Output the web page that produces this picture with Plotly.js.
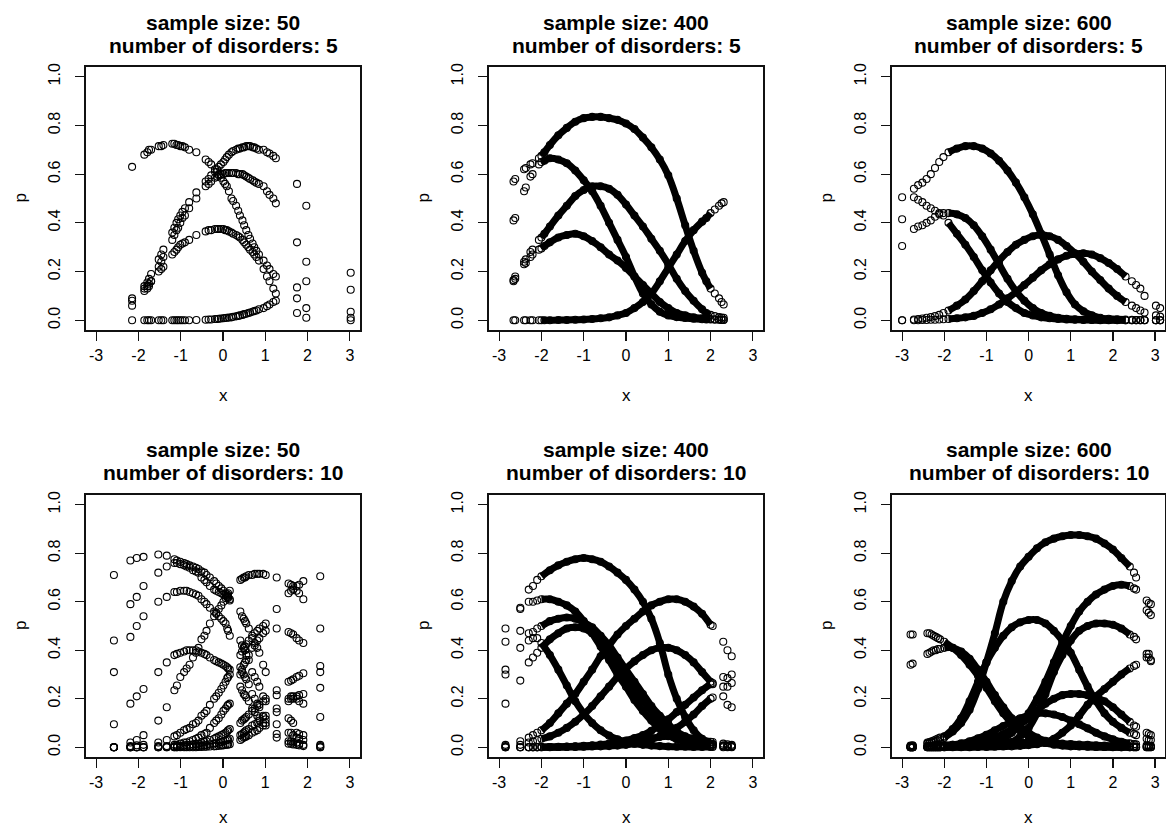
<!DOCTYPE html>
<html><head><meta charset="utf-8">
<script src="https://cdn.plot.ly/plotly-3.0.1.min.js"></script>
<style>body{margin:0;background:#fff}#chart{width:1166px;height:828px}</style>
</head><body><div id="chart"></div>
<script>
// ---------- panel meta ----------
const SAMPLE_SIZE = [50, 400, 600, 50, 400, 600];
const DISORDERS = [5, 5, 5, 10, 10, 10];
const X_TICKS = [-3, -2, -1, 0, 1, 2, 3];
const X_TICK_LABELS = ['-3', '-2', '-1', '0', '1', '2', '3'];
const Y_TICKS = [0, 0.2, 0.4, 0.6, 0.8, 1.0];
const Y_TICK_LABELS = ['0.0', '0.2', '0.4', '0.6', '0.8', '1.0'];

// ---------- panel 1: n=50, 5 disorders ----------
const X1 = [-2.15, -1.86, -1.79, -1.75, -1.7, -1.52, -1.46, -1.41, -1.2, -1.15, -1.1, -1.06, -1.01, -0.96, -0.9, -0.8, -0.63, -0.41, -0.34, -0.28, -0.19, -0.14, -0.1, -0.05, 0.01, 0.05, 0.09, 0.14, 0.2, 0.24, 0.31, 0.36, 0.4, 0.46, 0.5, 0.55, 0.6, 0.64, 0.7, 0.74, 0.79, 0.85, 0.96, 1.04, 1.1, 1.19, 1.25, 1.75, 1.97, 3.02];
const P1_A = [0.63, 0.68, 0.69, 0.70, 0.70, 0.715, 0.715, 0.72, 0.725, 0.725, 0.72, 0.72, 0.715, 0.715, 0.71, 0.70, 0.69, 0.66, 0.65, 0.64, 0.62, 0.61, 0.60, 0.585, 0.57, 0.56, 0.55, 0.53, 0.50, 0.49, 0.47, 0.45, 0.43, 0.41, 0.39, 0.37, 0.35, 0.335, 0.315, 0.30, 0.285, 0.27, 0.245, 0.225, 0.21, 0.19, 0.18, 0.09, 0.05, 0.0];
const P1_B = [0.09, 0.14, 0.155, 0.17, 0.19, 0.25, 0.27, 0.29, 0.36, 0.38, 0.40, 0.415, 0.43, 0.445, 0.46, 0.485, 0.525, 0.57, 0.58, 0.595, 0.61, 0.62, 0.63, 0.64, 0.65, 0.66, 0.67, 0.68, 0.69, 0.695, 0.70, 0.705, 0.705, 0.71, 0.71, 0.715, 0.715, 0.715, 0.71, 0.71, 0.705, 0.70, 0.70, 0.69, 0.685, 0.675, 0.665, 0.56, 0.47, 0.125];
const P1_C = [0.06, 0.12, 0.13, 0.14, 0.16, 0.22, 0.24, 0.26, 0.33, 0.35, 0.37, 0.38, 0.40, 0.42, 0.43, 0.46, 0.50, 0.55, 0.56, 0.57, 0.585, 0.59, 0.595, 0.60, 0.60, 0.605, 0.605, 0.605, 0.605, 0.605, 0.605, 0.60, 0.60, 0.60, 0.595, 0.59, 0.585, 0.58, 0.575, 0.57, 0.565, 0.56, 0.55, 0.53, 0.515, 0.50, 0.48, 0.32, 0.24, 0.035];
const P1_D = [0.08, 0.13, 0.14, 0.15, 0.16, 0.20, 0.21, 0.22, 0.27, 0.28, 0.29, 0.30, 0.31, 0.315, 0.32, 0.33, 0.35, 0.365, 0.37, 0.37, 0.375, 0.375, 0.375, 0.375, 0.375, 0.37, 0.37, 0.365, 0.36, 0.355, 0.35, 0.345, 0.34, 0.33, 0.32, 0.31, 0.30, 0.29, 0.28, 0.27, 0.26, 0.245, 0.21, 0.18, 0.16, 0.13, 0.11, 0.03, 0.01, 0.01];
const P1_E = [0, 0, 0, 0, 0, 0, 0, 0, 0, 0, 0, 0, 0, 0, 0, 0, 0.001, 0.002, 0.003, 0.003, 0.005, 0.005, 0.006, 0.007, 0.008, 0.009, 0.01, 0.011, 0.012, 0.014, 0.016, 0.018, 0.02, 0.022, 0.025, 0.027, 0.03, 0.032, 0.035, 0.038, 0.04, 0.045, 0.05, 0.058, 0.065, 0.075, 0.08, 0.135, 0.16, 0.195];

// ---------- panel 2: n=400, 5 disorders ----------
const X2 = [-2.66, -2.62, -2.41, -2.37, -2.26, -2.21, -2.06, -2.0, -1.93, -1.8, -1.6, -1.4, -1.2, -1.0, -0.8, -0.6, -0.4, -0.2, 0.0, 0.2, 0.4, 0.6, 0.8, 1.0, 1.2, 1.4, 1.6, 1.8, 1.9, 2.0, 2.1, 2.2, 2.26, 2.31];
const P2_A = [0.57, 0.58, 0.62, 0.625, 0.64, 0.645, 0.665, 0.675, 0.69, 0.72, 0.76, 0.79, 0.815, 0.83, 0.835, 0.835, 0.83, 0.823, 0.808, 0.785, 0.75, 0.71, 0.66, 0.595, 0.50, 0.39, 0.285, 0.195, 0.16, 0.13, 0.11, 0.09, 0.075, 0.065];
const P2_B = [0.41, 0.42, 0.53, 0.545, 0.59, 0.60, 0.64, 0.65, 0.655, 0.665, 0.66, 0.645, 0.615, 0.575, 0.53, 0.47, 0.40, 0.33, 0.26, 0.18, 0.11, 0.065, 0.035, 0.02, 0.013, 0.009, 0.006, 0.004, 0.003, 0.003, 0.002, 0.002, 0.001, 0.001];
const P2_C = [0.165, 0.18, 0.24, 0.25, 0.28, 0.29, 0.33, 0.34, 0.355, 0.385, 0.43, 0.47, 0.51, 0.535, 0.55, 0.55, 0.54, 0.515, 0.475, 0.43, 0.385, 0.335, 0.285, 0.23, 0.17, 0.12, 0.08, 0.045, 0.03, 0.022, 0.017, 0.013, 0.011, 0.01];
const P2_D = [0.16, 0.17, 0.23, 0.235, 0.26, 0.27, 0.29, 0.295, 0.305, 0.32, 0.34, 0.35, 0.355, 0.345, 0.325, 0.30, 0.27, 0.245, 0.215, 0.18, 0.145, 0.11, 0.075, 0.05, 0.03, 0.02, 0.012, 0.008, 0.006, 0.005, 0.004, 0.003, 0.002, 0.002];
const P2_E = [0, 0, 0, 0, 0, 0, 0, 0, 0, 0, 0.001, 0.001, 0.002, 0.003, 0.005, 0.008, 0.012, 0.02, 0.03, 0.05, 0.075, 0.11, 0.16, 0.215, 0.27, 0.325, 0.37, 0.405, 0.42, 0.44, 0.455, 0.47, 0.48, 0.485];

// ---------- panel 3: n=600, 5 disorders ----------
const X3 = [-3.0, -2.72, -2.62, -2.52, -2.42, -2.32, -2.22, -2.12, -2.02, -1.9, -1.7, -1.5, -1.3, -1.1, -0.9, -0.7, -0.5, -0.3, -0.1, 0.1, 0.3, 0.5, 0.7, 0.9, 1.1, 1.3, 1.5, 1.7, 1.9, 2.1, 2.3, 2.45, 2.55, 2.65, 2.75, 3.02, 3.12];
const P3_A = [0.505, 0.54, 0.555, 0.565, 0.58, 0.60, 0.625, 0.65, 0.67, 0.69, 0.705, 0.715, 0.715, 0.705, 0.685, 0.655, 0.615, 0.565, 0.505, 0.435, 0.355, 0.27, 0.185, 0.115, 0.065, 0.037, 0.02, 0.01, 0.006, 0.004, 0.003, 0.002, 0.001, 0.001, 0.001, 0, 0];
const P3_B = [0.415, 0.505, 0.495, 0.485, 0.47, 0.46, 0.45, 0.44, 0.43, 0.40, 0.355, 0.31, 0.26, 0.205, 0.155, 0.11, 0.075, 0.05, 0.03, 0.02, 0.012, 0.008, 0.005, 0.003, 0.002, 0.001, 0.001, 0, 0, 0, 0, 0, 0, 0, 0, 0, 0];
const P3_C = [0.305, 0.375, 0.385, 0.39, 0.40, 0.41, 0.425, 0.435, 0.44, 0.44, 0.435, 0.42, 0.39, 0.345, 0.29, 0.23, 0.17, 0.12, 0.08, 0.05, 0.03, 0.018, 0.01, 0.006, 0.004, 0.003, 0.002, 0.001, 0.001, 0.001, 0, 0, 0, 0, 0, 0, 0];
const P3_D = [0, 0.003, 0.005, 0.007, 0.01, 0.013, 0.017, 0.022, 0.03, 0.04, 0.06, 0.085, 0.12, 0.16, 0.205, 0.245, 0.28, 0.31, 0.33, 0.345, 0.35, 0.345, 0.33, 0.305, 0.275, 0.24, 0.20, 0.165, 0.13, 0.10, 0.075, 0.06, 0.05, 0.04, 0.032, 0.02, 0.015];
const P3_E = [0, 0, 0, 0.001, 0.001, 0.002, 0.002, 0.003, 0.004, 0.005, 0.008, 0.012, 0.018, 0.03, 0.045, 0.065, 0.09, 0.115, 0.145, 0.175, 0.205, 0.23, 0.25, 0.265, 0.272, 0.275, 0.27, 0.255, 0.235, 0.21, 0.18, 0.16, 0.145, 0.13, 0.10, 0.06, 0.05];

// ---------- panel 4: n=50, 10 disorders ----------
const X4 = [-2.58, -2.19, -2.04, -1.88, -1.53, -1.33, -1.15, -1.09, -1.01, -0.92, -0.86, -0.79, -0.71, -0.64, -0.58, -0.51, -0.44, -0.39, -0.31, -0.21, -0.16, -0.1, -0.04, 0.01, 0.06, 0.1, 0.12, 0.16, 0.41, 0.45, 0.49, 0.52, 0.55, 0.61, 0.69, 0.75, 0.81, 0.86, 0.95, 1.01, 1.27, 1.55, 1.61, 1.66, 1.74, 1.8, 1.9, 2.3];
const P4_01 = [0.71, 0.77, 0.78, 0.785, 0.795, 0.79, 0.775, 0.77, 0.765, 0.76, 0.755, 0.75, 0.745, 0.74, 0.735, 0.725, 0.72, 0.71, 0.70, 0.685, 0.675, 0.665, 0.655, 0.645, 0.635, 0.625, 0.62, 0.61, 0.56, 0.54, 0.53, 0.52, 0.51, 0.49, 0.45, 0.43, 0.41, 0.39, 0.34, 0.31, 0.215, 0.12, 0.11, 0.10, 0.06, 0.055, 0.05, 0.01];
const P4_02 = [0.44, 0.59, 0.62, 0.665, 0.72, 0.745, 0.76, 0.76, 0.755, 0.75, 0.745, 0.74, 0.73, 0.725, 0.72, 0.70, 0.69, 0.68, 0.665, 0.65, 0.645, 0.64, 0.635, 0.63, 0.625, 0.62, 0.615, 0.605, 0.44, 0.42, 0.41, 0.40, 0.38, 0.36, 0.31, 0.29, 0.27, 0.25, 0.21, 0.19, 0.095, 0.06, 0.06, 0.05, 0.04, 0.035, 0.03, 0.005];
const P4_03 = [0.31, 0.455, 0.50, 0.54, 0.60, 0.62, 0.64, 0.64, 0.645, 0.645, 0.645, 0.64, 0.635, 0.63, 0.625, 0.61, 0.60, 0.59, 0.575, 0.56, 0.55, 0.54, 0.53, 0.52, 0.51, 0.49, 0.48, 0.46, 0.33, 0.31, 0.30, 0.29, 0.28, 0.26, 0.22, 0.20, 0.18, 0.165, 0.13, 0.115, 0.055, 0.025, 0.025, 0.02, 0.02, 0.015, 0.01, 0];
const P4_04 = [0.095, 0.18, 0.21, 0.24, 0.31, 0.35, 0.38, 0.385, 0.39, 0.395, 0.40, 0.40, 0.40, 0.40, 0.395, 0.39, 0.385, 0.38, 0.37, 0.36, 0.355, 0.35, 0.345, 0.34, 0.335, 0.33, 0.325, 0.32, 0.25, 0.235, 0.22, 0.215, 0.205, 0.19, 0.16, 0.145, 0.13, 0.12, 0.10, 0.09, 0.04, 0.015, 0.015, 0.012, 0.01, 0.008, 0.005, 0];
const P4_05 = [0, 0.02, 0.03, 0.05, 0.11, 0.165, 0.235, 0.255, 0.29, 0.31, 0.325, 0.34, 0.37, 0.39, 0.41, 0.445, 0.46, 0.48, 0.51, 0.54, 0.555, 0.57, 0.585, 0.60, 0.615, 0.63, 0.635, 0.645, 0.69, 0.695, 0.70, 0.70, 0.705, 0.71, 0.71, 0.715, 0.715, 0.715, 0.715, 0.71, 0.70, 0.675, 0.67, 0.665, 0.645, 0.635, 0.61, 0.49];
const P4_06 = [0, 0.005, 0.008, 0.01, 0.02, 0.03, 0.045, 0.05, 0.06, 0.07, 0.075, 0.08, 0.095, 0.10, 0.11, 0.13, 0.14, 0.15, 0.175, 0.20, 0.21, 0.225, 0.24, 0.255, 0.27, 0.285, 0.29, 0.30, 0.38, 0.395, 0.41, 0.415, 0.425, 0.44, 0.46, 0.47, 0.48, 0.49, 0.50, 0.51, 0.57, 0.635, 0.645, 0.65, 0.665, 0.67, 0.685, 0.705];
const P4_07 = [0, 0, 0, 0, 0.005, 0.005, 0.01, 0.01, 0.015, 0.02, 0.02, 0.025, 0.03, 0.035, 0.04, 0.05, 0.055, 0.06, 0.08, 0.10, 0.11, 0.12, 0.135, 0.15, 0.16, 0.17, 0.175, 0.18, 0.30, 0.32, 0.34, 0.35, 0.36, 0.38, 0.41, 0.42, 0.44, 0.45, 0.47, 0.48, 0.49, 0.475, 0.47, 0.465, 0.45, 0.44, 0.43, 0.335];
const P4_08 = [0, 0, 0, 0, 0, 0.002, 0.004, 0.005, 0.006, 0.008, 0.009, 0.01, 0.012, 0.014, 0.015, 0.02, 0.022, 0.025, 0.03, 0.035, 0.04, 0.045, 0.05, 0.055, 0.06, 0.065, 0.07, 0.075, 0.10, 0.11, 0.115, 0.12, 0.125, 0.135, 0.15, 0.16, 0.17, 0.175, 0.19, 0.20, 0.235, 0.27, 0.275, 0.28, 0.29, 0.295, 0.305, 0.31];
const P4_09 = [0, 0, 0, 0, 0, 0, 0, 0, 0.001, 0.002, 0.002, 0.003, 0.004, 0.005, 0.005, 0.007, 0.008, 0.009, 0.012, 0.015, 0.017, 0.02, 0.022, 0.025, 0.028, 0.03, 0.032, 0.035, 0.05, 0.055, 0.06, 0.065, 0.07, 0.075, 0.09, 0.095, 0.10, 0.11, 0.125, 0.13, 0.16, 0.20, 0.21, 0.21, 0.21, 0.215, 0.22, 0.245];
const P4_10 = [0, 0, 0, 0, 0, 0, 0, 0, 0, 0, 0, 0, 0, 0, 0.001, 0.001, 0.002, 0.002, 0.003, 0.004, 0.005, 0.006, 0.007, 0.008, 0.01, 0.011, 0.012, 0.013, 0.03, 0.035, 0.04, 0.042, 0.045, 0.05, 0.06, 0.065, 0.07, 0.08, 0.09, 0.10, 0.145, 0.19, 0.20, 0.20, 0.20, 0.19, 0.18, 0.125];

// ---------- panel 5: n=400, 10 disorders ----------
const X5 = [-2.85, -2.5, -2.3, -2.2, -2.1, -2.0, -1.8, -1.6, -1.4, -1.2, -1.0, -0.8, -0.6, -0.4, -0.2, 0.0, 0.2, 0.4, 0.6, 0.8, 1.0, 1.2, 1.4, 1.6, 1.8, 2.0, 2.05, 2.3, 2.4, 2.5];
const P5_01 = [0.49, 0.575, 0.65, 0.665, 0.69, 0.705, 0.73, 0.75, 0.765, 0.775, 0.78, 0.775, 0.765, 0.745, 0.72, 0.69, 0.65, 0.60, 0.53, 0.43, 0.30, 0.20, 0.125, 0.07, 0.035, 0.015, 0.013, 0.006, 0.004, 0.003];
const P5_02 = [0.435, 0.57, 0.60, 0.60, 0.605, 0.61, 0.61, 0.60, 0.585, 0.56, 0.52, 0.47, 0.415, 0.36, 0.30, 0.25, 0.195, 0.15, 0.11, 0.075, 0.05, 0.033, 0.022, 0.014, 0.009, 0.006, 0.005, 0.003, 0.002, 0.002];
const P5_03 = [0.32, 0.48, 0.47, 0.475, 0.49, 0.50, 0.52, 0.53, 0.535, 0.53, 0.515, 0.495, 0.46, 0.42, 0.37, 0.32, 0.27, 0.22, 0.17, 0.13, 0.095, 0.065, 0.045, 0.03, 0.02, 0.013, 0.012, 0.007, 0.005, 0.004];
const P5_04 = [0.18, 0.275, 0.35, 0.37, 0.39, 0.41, 0.445, 0.47, 0.49, 0.495, 0.49, 0.47, 0.44, 0.395, 0.345, 0.29, 0.24, 0.19, 0.15, 0.11, 0.08, 0.055, 0.04, 0.027, 0.018, 0.012, 0.011, 0.007, 0.006, 0.005];
const P5_05 = [0.30, 0.41, 0.44, 0.45, 0.45, 0.43, 0.38, 0.32, 0.255, 0.19, 0.14, 0.10, 0.07, 0.048, 0.033, 0.022, 0.015, 0.01, 0.007, 0.005, 0.003, 0.002, 0.002, 0.001, 0.001, 0.001, 0.001, 0, 0, 0];
const P5_06 = [0.01, 0.025, 0.04, 0.05, 0.06, 0.07, 0.10, 0.14, 0.18, 0.22, 0.27, 0.32, 0.375, 0.42, 0.465, 0.50, 0.53, 0.56, 0.585, 0.60, 0.61, 0.61, 0.60, 0.58, 0.55, 0.505, 0.50, 0.435, 0.40, 0.375];
const P5_07 = [0.005, 0.01, 0.02, 0.025, 0.03, 0.035, 0.045, 0.06, 0.08, 0.105, 0.135, 0.17, 0.21, 0.25, 0.29, 0.325, 0.355, 0.38, 0.40, 0.41, 0.41, 0.40, 0.38, 0.35, 0.31, 0.27, 0.26, 0.21, 0.175, 0.165];
const P5_08 = [0, 0, 0, 0, 0, 0.001, 0.001, 0.002, 0.003, 0.004, 0.006, 0.008, 0.011, 0.015, 0.02, 0.028, 0.038, 0.05, 0.068, 0.09, 0.115, 0.145, 0.175, 0.205, 0.235, 0.26, 0.265, 0.29, 0.285, 0.30];
const P5_09 = [0, 0, 0, 0, 0, 0, 0, 0.001, 0.001, 0.001, 0.002, 0.003, 0.004, 0.005, 0.007, 0.01, 0.015, 0.022, 0.032, 0.045, 0.06, 0.08, 0.105, 0.135, 0.17, 0.20, 0.205, 0.25, 0.25, 0.265];
const P5_10 = [0, 0, 0, 0, 0, 0, 0.001, 0.001, 0.002, 0.003, 0.004, 0.006, 0.008, 0.011, 0.015, 0.02, 0.026, 0.032, 0.038, 0.043, 0.046, 0.046, 0.043, 0.037, 0.03, 0.023, 0.022, 0.015, 0.012, 0.01];

// ---------- panel 6: n=600, 10 disorders ----------
const X6 = [-2.8, -2.75, -2.4, -2.35, -2.3, -2.25, -2.2, -2.15, -2.1, -2.0, -1.8, -1.6, -1.4, -1.2, -1.0, -0.8, -0.6, -0.4, -0.2, 0.0, 0.2, 0.4, 0.6, 0.8, 1.0, 1.2, 1.4, 1.6, 1.8, 2.0, 2.2, 2.4, 2.5, 2.55, 2.8, 2.85, 2.9];
const P6_01 = [0.005, 0.006, 0.015, 0.017, 0.02, 0.022, 0.025, 0.028, 0.032, 0.04, 0.065, 0.10, 0.155, 0.24, 0.35, 0.47, 0.60, 0.685, 0.745, 0.785, 0.82, 0.845, 0.86, 0.87, 0.875, 0.875, 0.87, 0.86, 0.84, 0.815, 0.78, 0.745, 0.72, 0.70, 0.565, 0.555, 0.545];
const P6_02 = [0, 0, 0, 0, 0, 0, 0, 0, 0, 0.001, 0.002, 0.003, 0.005, 0.008, 0.013, 0.02, 0.035, 0.06, 0.095, 0.14, 0.20, 0.27, 0.35, 0.43, 0.50, 0.56, 0.60, 0.63, 0.65, 0.665, 0.67, 0.665, 0.655, 0.65, 0.605, 0.595, 0.59];
const P6_03 = [0, 0, 0, 0, 0, 0, 0, 0, 0, 0, 0.001, 0.001, 0.002, 0.003, 0.005, 0.008, 0.013, 0.022, 0.045, 0.08, 0.14, 0.22, 0.31, 0.38, 0.44, 0.48, 0.50, 0.51, 0.51, 0.505, 0.49, 0.465, 0.455, 0.445, 0.385, 0.37, 0.355];
const P6_04 = [0.007, 0.008, 0.02, 0.022, 0.025, 0.028, 0.032, 0.036, 0.04, 0.045, 0.075, 0.12, 0.19, 0.27, 0.35, 0.41, 0.46, 0.495, 0.515, 0.525, 0.525, 0.51, 0.48, 0.44, 0.39, 0.32, 0.25, 0.19, 0.14, 0.105, 0.08, 0.06, 0.055, 0.05, 0.035, 0.03, 0.03];
const P6_05 = [0.465, 0.465, 0.47, 0.47, 0.465, 0.46, 0.455, 0.45, 0.445, 0.435, 0.41, 0.38, 0.34, 0.295, 0.245, 0.19, 0.14, 0.10, 0.07, 0.045, 0.03, 0.018, 0.011, 0.007, 0.004, 0.003, 0.002, 0.001, 0.001, 0, 0, 0, 0, 0, 0, 0, 0];
const P6_06 = [0.34, 0.345, 0.385, 0.39, 0.395, 0.40, 0.40, 0.405, 0.405, 0.41, 0.41, 0.395, 0.365, 0.32, 0.27, 0.215, 0.165, 0.12, 0.085, 0.06, 0.04, 0.027, 0.018, 0.012, 0.008, 0.005, 0.003, 0.002, 0.001, 0.001, 0, 0, 0, 0, 0, 0, 0];
const P6_07 = [0, 0, 0.001, 0.001, 0.001, 0.001, 0.002, 0.002, 0.002, 0.003, 0.005, 0.008, 0.012, 0.018, 0.027, 0.04, 0.055, 0.075, 0.095, 0.12, 0.15, 0.18, 0.20, 0.215, 0.22, 0.22, 0.215, 0.205, 0.19, 0.165, 0.135, 0.105, 0.09, 0.085, 0.06, 0.055, 0.05];
const P6_08 = [0, 0, 0.002, 0.002, 0.003, 0.003, 0.004, 0.004, 0.005, 0.006, 0.01, 0.016, 0.025, 0.037, 0.052, 0.07, 0.088, 0.105, 0.12, 0.132, 0.14, 0.14, 0.135, 0.125, 0.11, 0.095, 0.078, 0.06, 0.045, 0.033, 0.023, 0.016, 0.013, 0.012, 0.008, 0.007, 0.006];
const P6_09 = [0, 0, 0, 0, 0, 0, 0, 0, 0, 0, 0, 0, 0, 0.001, 0.001, 0.002, 0.003, 0.004, 0.006, 0.009, 0.013, 0.02, 0.035, 0.06, 0.09, 0.13, 0.175, 0.21, 0.24, 0.27, 0.30, 0.325, 0.335, 0.34, 0.37, 0.385, 0.36];
const P6_10 = [0.005, 0.005, 0.006, 0.006, 0.007, 0.007, 0.007, 0.008, 0.008, 0.009, 0.01, 0.012, 0.013, 0.015, 0.016, 0.018, 0.019, 0.02, 0.02, 0.02, 0.019, 0.018, 0.016, 0.015, 0.013, 0.011, 0.01, 0.008, 0.007, 0.006, 0.005, 0.004, 0.004, 0.003, 0.003, 0.002, 0.002];

// x-span where each large-sample curve is densely sampled (drawn as a solid band)
const DENSE_SPAN = [null, [-2.0, 2.0], [-1.9, 2.3], null, [-2.0, 2.0], [-2.0, 2.4]];

const PANELS = [
  {x: X1, curves: [P1_A, P1_B, P1_C, P1_D, P1_E]},
  {x: X2, curves: [P2_A, P2_B, P2_C, P2_D, P2_E]},
  {x: X3, curves: [P3_A, P3_B, P3_C, P3_D, P3_E]},
  {x: X4, curves: [P4_01, P4_02, P4_03, P4_04, P4_05, P4_06, P4_07, P4_08, P4_09, P4_10]},
  {x: X5, curves: [P5_01, P5_02, P5_03, P5_04, P5_05, P5_06, P5_07, P5_08, P5_09, P5_10]},
  {x: X6, curves: [P6_01, P6_02, P6_03, P6_04, P6_05, P6_06, P6_07, P6_08, P6_09, P6_10]}
];

// ---------- layout geometry ----------
const W = 1166, H = 828;
const COLS = [[86, 360], [489, 763], [892, 1165.2]];
const ROWS = [[67, 330], [495, 757]];
const TITLE_Y = [[22, 45], [449, 472]];
const FONT = 'Liberation Sans, Arial, Helvetica, sans-serif';

const traces = [];
const layout = {
  width: W, height: H, margin: {l: 0, r: 0, t: 0, b: 0},
  paper_bgcolor: '#fff', plot_bgcolor: '#fff', showlegend: false,
  annotations: [], font: {family: FONT, color: '#000'}
};

PANELS.forEach((pn, i) => {
  const r = Math.floor(i / 3), c = i % 3, k = i + 1;
  const xa = 'x' + (k === 1 ? '' : k), ya = 'y' + (k === 1 ? '' : k);
  const common = {
    ticks: 'outside', ticklen: 9, tickwidth: 1.2, tickcolor: '#111',
    showline: true, mirror: true, linecolor: '#111', linewidth: 1.6,
    showgrid: false, zeroline: false, fixedrange: true,
    tickfont: {family: FONT, size: 16, color: '#000'}
  };
  layout['xaxis' + (k === 1 ? '' : k)] = Object.assign({}, common, {
    domain: [COLS[c][0] / W, COLS[c][1] / W], range: [-3.24, 3.24],
    tickmode: 'array', tickvals: X_TICKS, ticktext: X_TICK_LABELS,
    anchor: ya, ticklabelstandoff: 1
  });
  layout['yaxis' + (k === 1 ? '' : k)] = Object.assign({}, common, {
    domain: [1 - ROWS[r][1] / H, 1 - ROWS[r][0] / H], range: [-0.04, 1.04],
    tickmode: 'array', tickvals: Y_TICKS, ticktext: Y_TICK_LABELS,
    tickangle: -90, anchor: xa, ticklabelstandoff: 9
  });

  const span = DENSE_SPAN[i];
  if (span) {
    pn.curves.forEach(p => {
      const bx = [], by = [];
      pn.x.forEach((xv, j) => { if (xv >= span[0] && xv <= span[1]) { bx.push(xv); by.push(p[j]); } });
      traces.push({x: bx, y: by, xaxis: xa, yaxis: ya, type: 'scatter', mode: 'lines',
        line: {color: '#000', width: 7, shape: 'spline', smoothing: 1}, hoverinfo: 'skip'});
    });
  }
  pn.curves.forEach(p => {
    traces.push({x: pn.x, y: p, xaxis: xa, yaxis: ya, type: 'scatter', mode: 'markers',
      marker: {symbol: 'circle-open', size: 7, color: '#000', line: {width: 1.1, color: '#000'}},
      hoverinfo: 'skip', cliponaxis: true});
  });

  const cx = (COLS[c][0] + COLS[c][1]) / 2;
  const xlab = r === 0
    ? {y: 1 - 395 / H, yanchor: 'middle'}
    : {y: 0, yanchor: 'bottom'};
  layout.annotations.push(
    {xref: 'paper', yref: 'paper', x: cx / W, y: 1 - TITLE_Y[r][0] / H, xanchor: 'center', yanchor: 'middle',
     text: '<b>sample size: ' + SAMPLE_SIZE[i] + '</b>', showarrow: false, font: {family: FONT, size: 21, color: '#000'}},
    {xref: 'paper', yref: 'paper', x: cx / W, y: 1 - TITLE_Y[r][1] / H, xanchor: 'center', yanchor: 'middle',
     text: '<b>number of disorders: ' + DISORDERS[i] + '</b>', showarrow: false, font: {family: FONT, size: 21, color: '#000'}},
    {xref: 'paper', yref: 'paper', x: cx / W, y: xlab.y, xanchor: 'center', yanchor: xlab.yanchor,
     text: 'x', showarrow: false, font: {family: FONT, size: 17, color: '#000'}, borderpad: 0},
    {xref: 'paper', yref: 'paper', x: (COLS[c][0] - 66) / W, y: 1 - (ROWS[r][0] + ROWS[r][1]) / 2 / H,
     xanchor: 'center', yanchor: 'middle', textangle: -90,
     text: 'p', showarrow: false, font: {family: FONT, size: 17, color: '#000'}}
  );
});

Plotly.newPlot('chart', traces, layout, {staticPlot: true, displayModeBar: false});
</script>
</body></html>
